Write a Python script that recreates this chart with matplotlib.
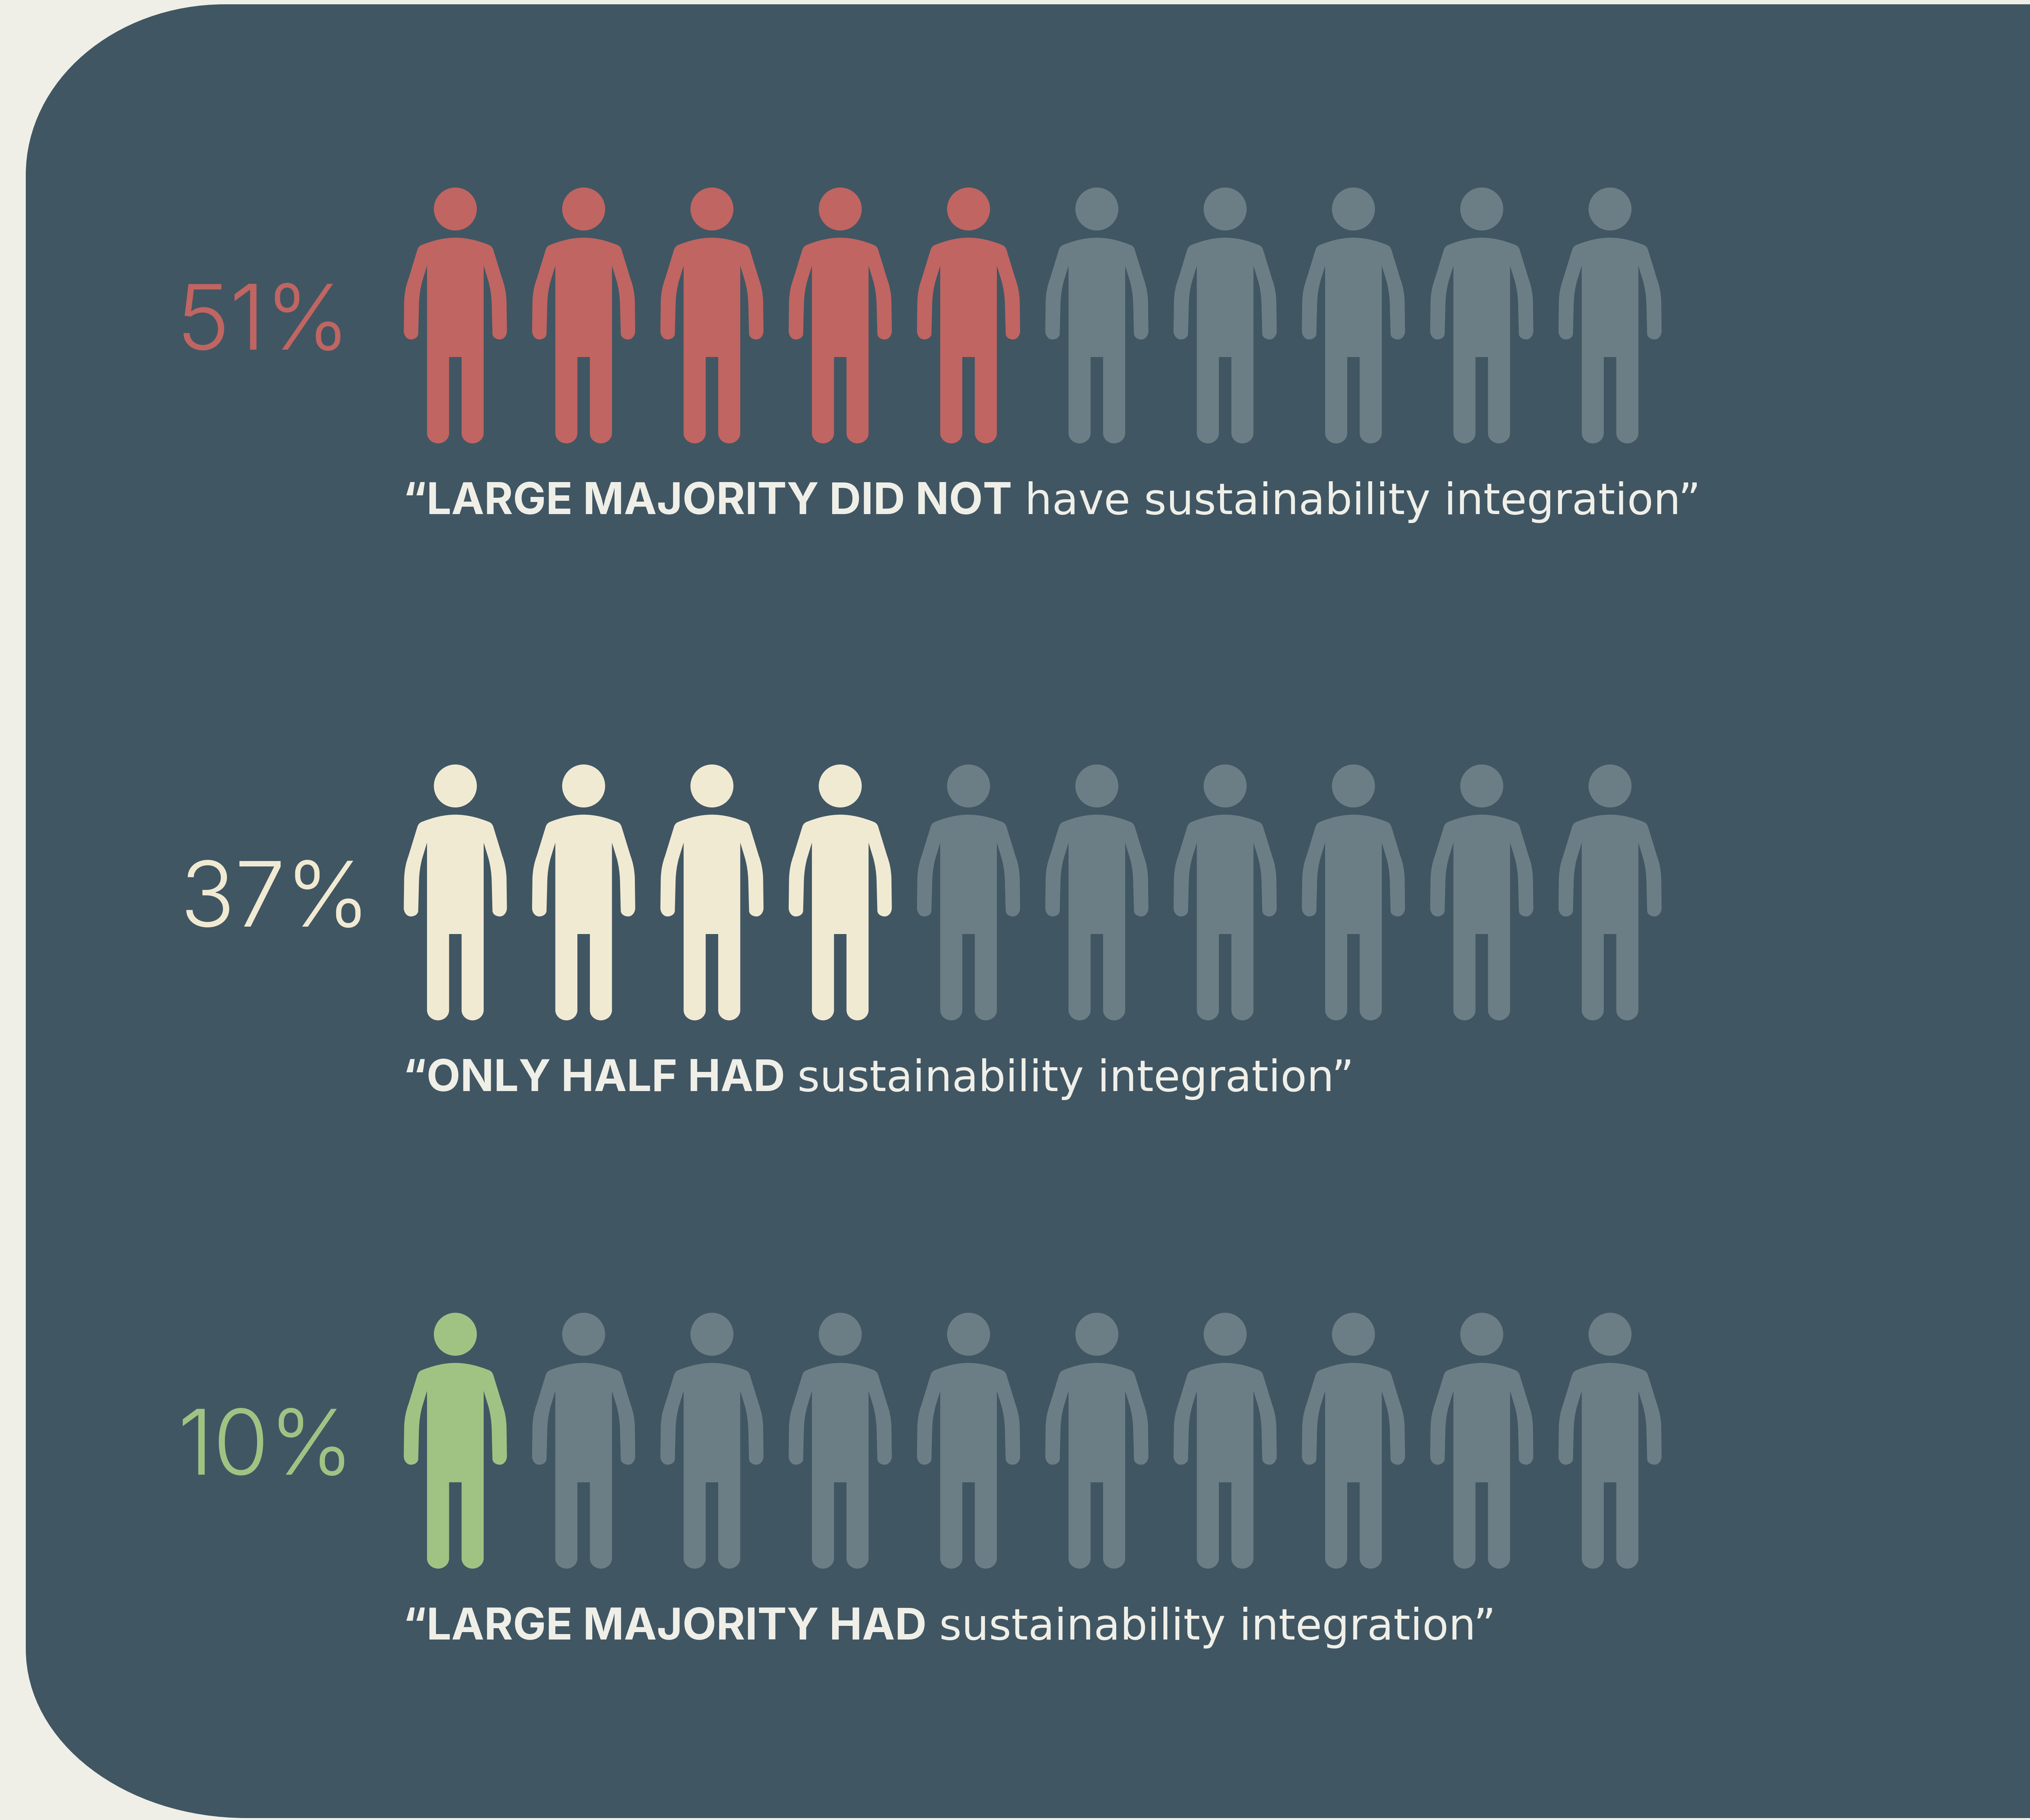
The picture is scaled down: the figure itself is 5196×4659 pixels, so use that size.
import matplotlib
matplotlib.use("Agg")
import matplotlib.pyplot as plt
from matplotlib.path import Path
from matplotlib.patches import PathPatch, Circle
from matplotlib.transforms import Affine2D

pct_labels = ["51%", "37%", "10%"]
filled_counts = [5, 4, 1]
total_people = 10
caption_bold = ["“LARGE MAJORITY DID NOT", "“ONLY HALF HAD", "“LARGE MAJORITY HAD"]
caption_rest = ["have sustainability integration”", "sustainability integration”", "sustainability integration”"]
row_colors = ["#C06562", "#F1EAD3", "#A0C384"]
pct_left = [450, 460, 454]

BG = "#EFEFE8"
PANEL = "#415663"
MUTED = "#6C7E85"
TEXT = "#EFEFE8"

W, H = 5196, 4659
head_y = [535, 2012, 3415.5]
first_x = 1165.5
step_x = 328.4
K = 0.55


def person_path():
    # right half of the body, origin at the centre of the head
    v = [(0, 73.4), (40, 73.4), (86, 92), (94, 95), (97, 104), (120, 179), (130, 205), (131, 236),
         (132, 312), (132, 324), (124, 334), (114, 334), (104, 334), (95, 328), (95, 319),
         (93, 241), (92, 212), (85, 186), (72.5, 145), (72.5, 574),
         (72.5, 574 + 26 * K), (44 + 28.5 * K, 600), (44, 600),
         (44 - 28 * K, 600), (16, 574 + 26 * K), (16, 574), (16, 379)]
    c = [Path.MOVETO, Path.CURVE3, Path.CURVE3, Path.CURVE3, Path.CURVE3, Path.LINETO, Path.CURVE3, Path.CURVE3,
         Path.LINETO, Path.CURVE4, Path.CURVE4, Path.CURVE4, Path.CURVE4, Path.CURVE4, Path.CURVE4,
         Path.LINETO, Path.CURVE3, Path.CURVE3, Path.LINETO, Path.LINETO,
         Path.CURVE4, Path.CURVE4, Path.CURVE4,
         Path.CURVE4, Path.CURVE4, Path.CURVE4, Path.LINETO]
    # mirror it for the left half
    mirrored = [(-x, y) for x, y in v[-1::-1]]
    verts = v + mirrored + [(0, 0)]
    codes = c + [Path.LINETO] + c[:0:-1] + [Path.CLOSEPOLY]
    return Path(verts, codes)


def panel_path():
    left, top, bottom = 66, 11, 4654
    right = W + 10
    k = 0.5523
    tl_x, tl_y = 510, 437
    bl_x, bl_y = 565, 433
    verts = [(right, top), (left + tl_x, top),
             (left + tl_x * (1 - k), top), (left, top + tl_y * (1 - k)), (left, top + tl_y),
             (left, bottom - bl_y),
             (left, bottom - bl_y * (1 - k)), (left + bl_x * (1 - k), bottom), (left + bl_x, bottom),
             (right, bottom), (right, top)]
    codes = [Path.MOVETO, Path.LINETO, Path.CURVE4, Path.CURVE4, Path.CURVE4, Path.LINETO,
             Path.CURVE4, Path.CURVE4, Path.CURVE4, Path.LINETO, Path.CLOSEPOLY]
    return Path(verts, codes)


fig = plt.figure(figsize=(W / 100, H / 100), dpi=100, facecolor=BG)
ax = fig.add_axes([0, 0, 1, 1])
ax.set_xlim(0, W)
ax.set_ylim(H, 0)
ax.axis("off")

ax.add_patch(PathPatch(panel_path(), facecolor=PANEL, edgecolor="none"))

body = person_path()
renderer = fig.canvas.get_renderer()

for row in range(len(pct_labels)):
    for i in range(total_people):
        color = row_colors[row] if i < filled_counts[row] else MUTED
        cx = first_x + i * step_x
        shift = Affine2D().translate(cx, head_y[row]) + ax.transData
        ax.add_patch(PathPatch(body, facecolor=color, edgecolor="none", transform=shift))
        ax.add_patch(Circle((cx, head_y[row]), 55, facecolor=color, edgecolor="none"))

    ax.text(pct_left[row], head_y[row] + 360, pct_labels[row], color=row_colors[row], fontsize=167,
            family="Inter", weight=300, ha="left", va="baseline")

    cap_y = head_y[row] + 781
    bold = ax.text(1031, cap_y, caption_bold[row], color=TEXT, fontsize=81, family="Inter",
                   weight=700, ha="left", va="baseline")
    end = bold.get_window_extent(renderer).x1
    ax.text(end + 32, cap_y, caption_rest[row], color=TEXT, fontsize=79.3, family="DejaVu Sans",
            ha="left", va="baseline")

fig.savefig("out.png", dpi=100, facecolor=BG)
